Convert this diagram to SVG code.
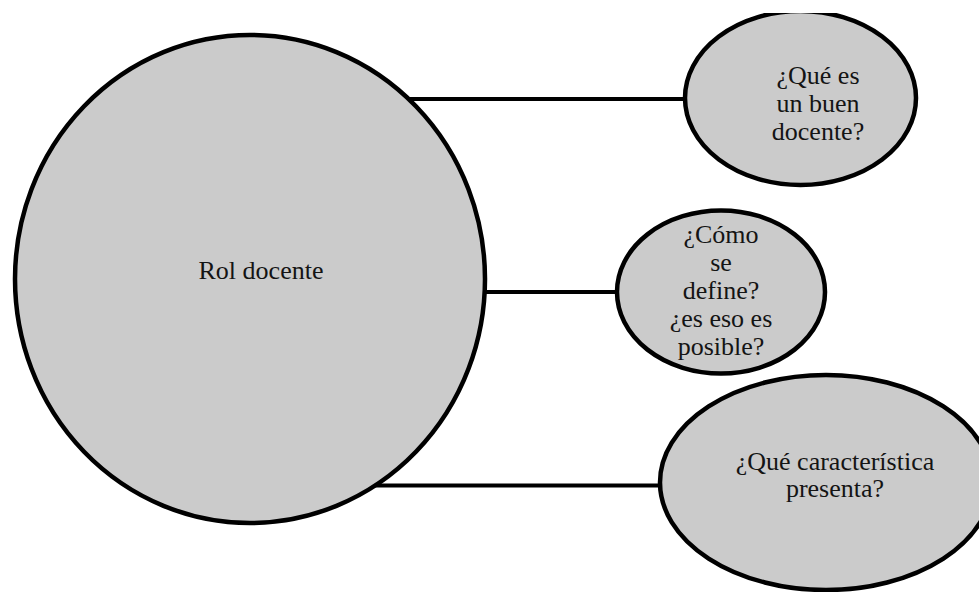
<svg xmlns="http://www.w3.org/2000/svg" width="979" height="592" viewBox="0 0 979 592">
  <style>
    .node { fill: #cbcbcb; stroke: #000; stroke-width: 4.5; }
    .edge { stroke: #000; stroke-width: 4; fill: none; }
    .label { font-family: "Liberation Serif", "DejaVu Serif", serif; font-size: 26px; fill: #141414; text-anchor: middle; }
  </style>
  <defs>
    <clipPath id="topclip"><rect x="0" y="13" width="979" height="579"/></clipPath>
  </defs>
  <rect width="979" height="592" fill="#fff"/>
  <g id="connectors">
    <line class="edge" x1="406" y1="99" x2="687" y2="99"/>
    <line class="edge" x1="483" y1="292" x2="619" y2="292"/>
    <line class="edge" x1="373" y1="485.5" x2="662" y2="485.5"/>
  </g>
  <g id="node-rol">
    <ellipse class="node" cx="250" cy="279" rx="235" ry="244"/>
    <text class="label" x="261" y="279">Rol docente</text>
  </g>
  <g id="node-buen-docente" clip-path="url(#topclip)">
    <ellipse class="node" cx="800.5" cy="98" rx="115.5" ry="87"/>
    <text class="label" x="818" y="84">¿Qué es</text>
    <text class="label" x="818" y="112">un buen</text>
    <text class="label" x="818" y="140">docente?</text>
  </g>
  <g id="node-como-define">
    <ellipse class="node" cx="721" cy="292" rx="104" ry="81.5"/>
    <text class="label" x="721" y="243">¿Cómo</text>
    <text class="label" x="721" y="271">se</text>
    <text class="label" x="721" y="299">define?</text>
    <text class="label" x="721" y="327">¿es eso es</text>
    <text class="label" x="721" y="355">posible?</text>
  </g>
  <g id="node-caracteristica">
    <ellipse class="node" cx="826" cy="482.5" rx="166" ry="107.5"/>
    <text class="label" x="835" y="470">¿Qué característica</text>
    <text class="label" x="835" y="497">presenta?</text>
  </g>
</svg>
